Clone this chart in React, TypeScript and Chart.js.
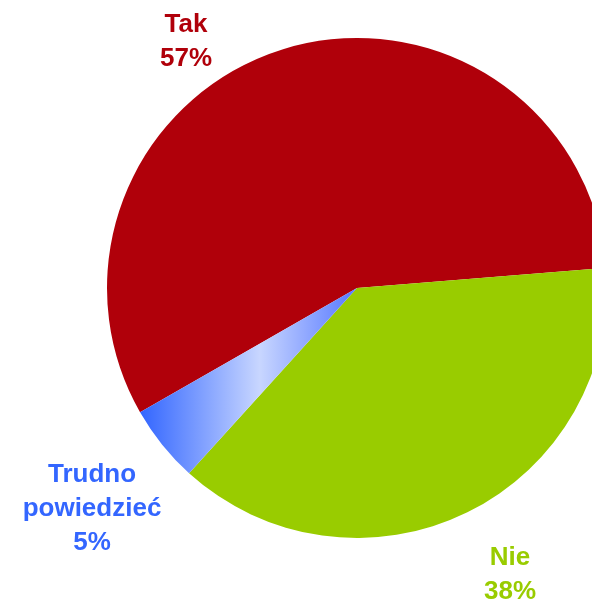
import React, { useEffect, useRef } from "react";
import { Chart, registerables } from "chart.js";

Chart.register(...registerables);

const categories = ["Tak", "Nie", "Trudno powiedzieć"];
const values = [57, 38, 5];
const labelLines = [["Tak", "57%"], ["Nie", "38%"], ["Trudno", "powiedzieć", "5%"]];
const sliceColors = ["#B0000A", "#99CC00", "gradient"];
const textColors = ["#B0000A", "#99CC00", "#3366FF"];

const RADIUS = 250;

const labelPlugin = {
  id: "outerLabels",
  afterDatasetsDraw(chart: any) {
    const { ctx, chartArea } = chart;
    const cx = (chartArea.left + chartArea.right) / 2;
    const cy = (chartArea.top + chartArea.bottom) / 2;
    // anchor (center x, first baseline y) relative to pie center
    const anchors = [
      [cx - 171, cy - 256],
      [cx + 153, cy + 277],
      [cx - 265, cy + 194],
    ];
    const lineH = 34;
    ctx.save();
    ctx.font = "bold 26px 'Liberation Sans', Arial, sans-serif";
    ctx.textAlign = "center";
    ctx.textBaseline = "alphabetic";
    labelLines.forEach((lines, i) => {
      ctx.fillStyle = textColors[i];
      lines.forEach((t, j) => {
        ctx.fillText(t, anchors[i][0], anchors[i][1] + j * lineH);
      });
    });
    ctx.restore();
  },
};

export default function App() {
  const ref = useRef<HTMLCanvasElement>(null);
  useEffect(() => {
    if (!ref.current) return;
    const chart = new Chart(ref.current, {
      type: "pie",
      data: {
        labels: categories,
        datasets: [
          {
            data: values,
            clip: false,
            borderWidth: 0,
            backgroundColor: (c: any) => {
              const col = sliceColors[c.dataIndex];
              if (col !== "gradient") return col;
              const area = c.chart.chartArea;
              if (!area) return "#88A4FF";
              const cx = (area.left + area.right) / 2;
              const g = c.chart.ctx.createLinearGradient(cx - RADIUS * 0.865, 0, cx, 0);
              g.addColorStop(0, "#3366FF");
              g.addColorStop(0.55, "#C8D6FF");
              g.addColorStop(1, "#5577FF");
              return g;
            },
          } as any,
        ],
      },
      options: {
        responsive: false,
        animation: false,
        devicePixelRatio: 1,
        rotation: 240.2,
        radius: RADIUS,
        layout: { padding: { left: 122, right: 0, top: 0, bottom: 23 } },
        plugins: {
          legend: { display: false },
          tooltip: { enabled: false },
        },
      } as any,
      plugins: [labelPlugin],
    });
    return () => chart.destroy();
  }, []);
  return (
    <div style={{ position: "absolute", left: 0, top: 0, width: 592, height: 599, overflow: "hidden", background: "#fff" }}>
      <canvas ref={ref} width={592} height={599} />
    </div>
  );
}
